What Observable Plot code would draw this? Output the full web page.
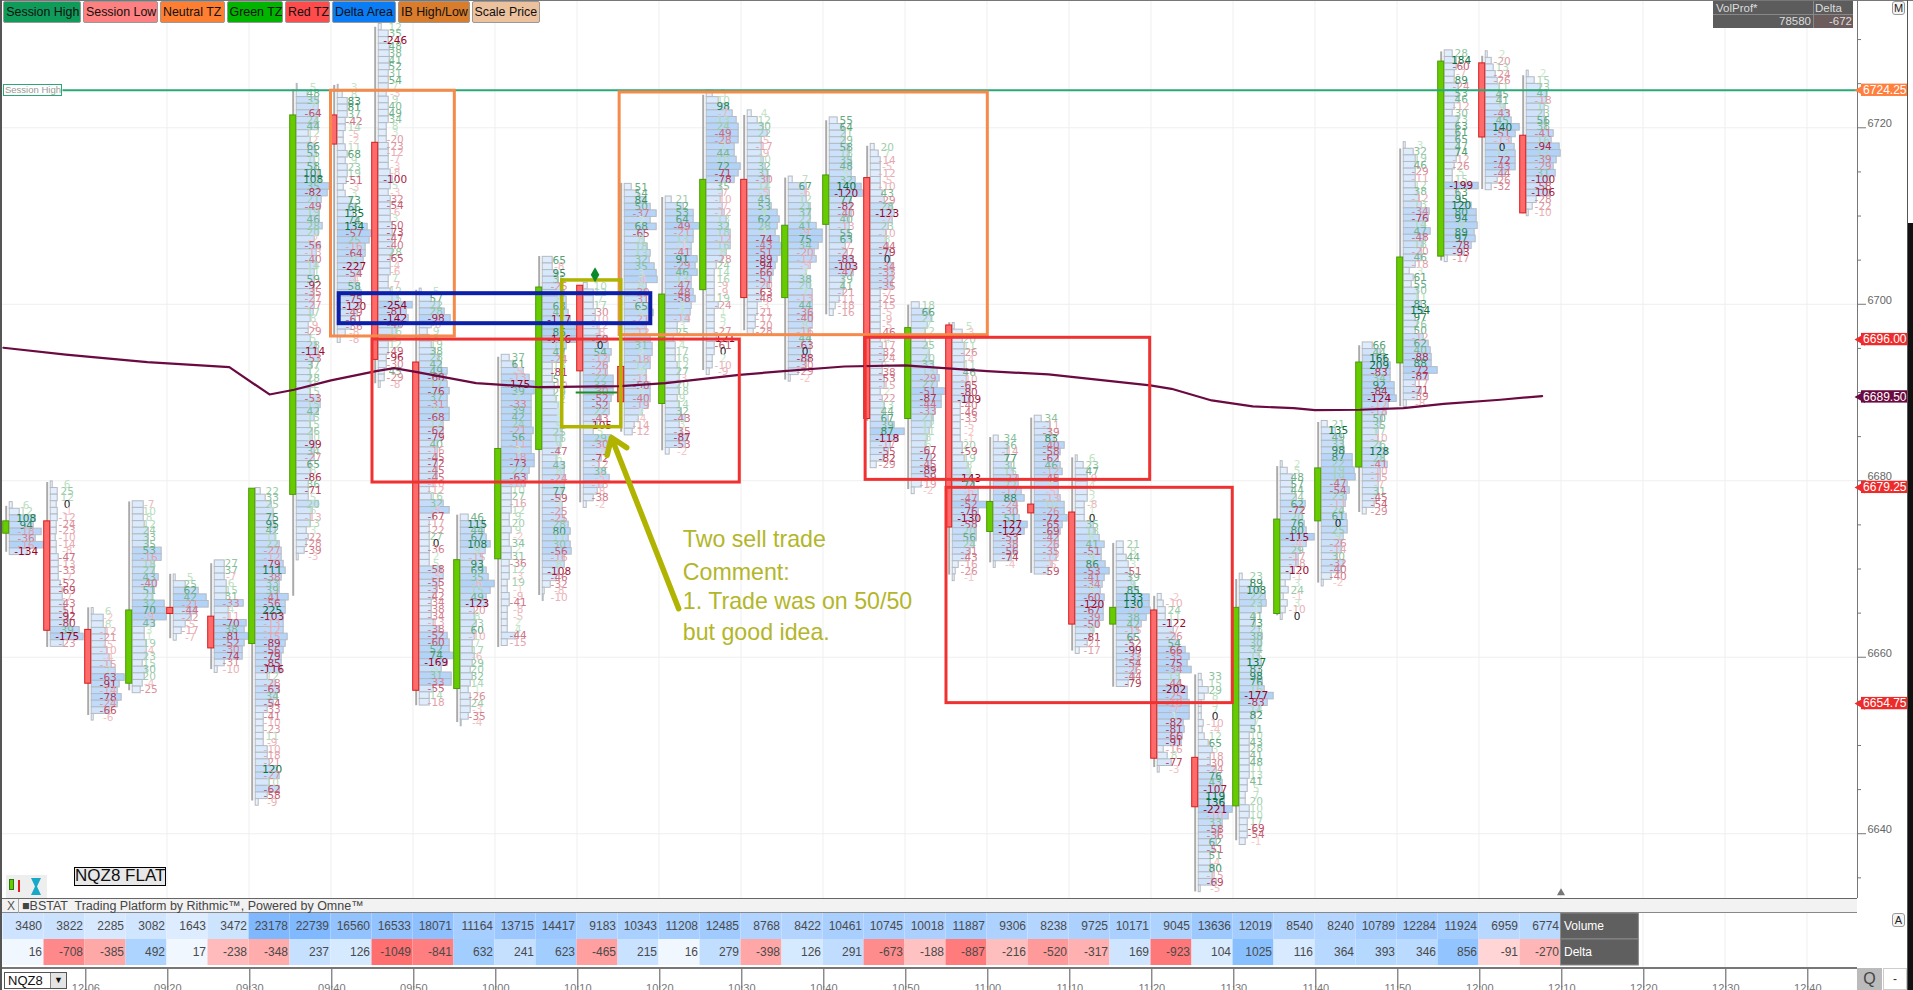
<!DOCTYPE html>
<html><head><meta charset="utf-8">
<script src="https://cdn.jsdelivr.net/npm/d3@7"></script>
<script src="https://cdn.jsdelivr.net/npm/@observablehq/plot@0.6"></script>
<style>
html,body{margin:0;padding:0;background:#fff;overflow:hidden}
#page{position:relative;width:1913px;height:990px;overflow:hidden;font-family:"Liberation Sans",sans-serif}
#page svg{position:absolute;left:0;background:transparent}
.h{position:absolute;white-space:nowrap;box-sizing:border-box}
</style></head><body><div id="page"></div>
<script>
// ---------- table ----------
const barVolumes=[3480,3822,2285,3082,1643,3472,23178,22739,16560,16533,18071,11164,13715,14417,9183,10343,11208,12485,8768,8422,10461,10745,10018,11887,9306,8238,9725,10171,9045,13636,12019,8540,8240,10789,12284,11924,6959,6774];
const barDeltas=[16,-708,-385,492,17,-238,-348,237,126,-1049,-841,632,241,623,-465,215,16,279,-398,126,291,-673,-188,-887,-216,-520,-317,169,-923,104,1025,116,364,393,346,856,-91,-270];
// ---------- candles (price) ----------
const opens=[6674,6675.4,6663.1,6657,6665.6,6664.6,6661.5,6678.4,6721.4,6718.3,6693.4,6656.4,6671.1,6683.5,6702.1,6692.9,6688.7,6701.6,6714.1,6700.7,6709,6714.3,6687,6697.6,6674.2,6677.3,6676.4,6663.7,6665.3,6648.6,6643.1,6664.9,6675.4,6681.5,6693.3,6705.4,6727.3,6719.1];
const closes=[6675.4,6663,6657,6665.3,6664.9,6661,6679.1,6721.4,6718.1,6693.7,6656.2,6671,6683.6,6701.9,6692.4,6688.9,6701.1,6714.1,6700.7,6708.9,6714.6,6687,6697.3,6674.7,6677.6,6676.3,6663.7,6665.6,6648.5,6643,6665.6,6675.6,6681.4,6693.4,6705.3,6727.5,6718.9,6710.3];
const highs=[6677.1,6679.8,6665.6,6677.6,6669.4,6670.6,6679,6724.3,6724.8,6731.4,6701.6,6676.1,6694,6705.4,6702.1,6713.7,6712.1,6723.7,6721.4,6714.3,6720.8,6717.9,6699.9,6697.9,6684.9,6687.1,6682.6,6672.9,6666.9,6658,6668.8,6681.6,6686.6,6695.3,6717.6,6728.6,6728.1,6725.9];
const lows=[6671.9,6661.1,6653.4,6656.2,6662.1,6658.6,6643.7,6666.9,6696.4,6691,6654.5,6652.6,6661.1,6667,6677.5,6685.5,6683.4,6692.5,6697,6691.4,6698.8,6686.75,6679,6669.3,6670.7,6669.5,6660.7,6656.6,6647.5,6633.4,6639.2,6664.7,6668.4,6676.4,6688.4,6704.9,6713,6710.25];
// ---------- footprint profile: first row price, delta per row, volume per row (lots) ----------
const firstRowPrice=[6677.2,6679.55,6665.2,6677.3,6669,6670.6,6678.8,6724.6,6724.5,6731.4,6701.4,6675.8,6693.9,6705,6702.05,6713.27,6711.84,6723.85,6721.6,6714.1,6720.8,6717.8,6699.86,6697.5,6684.75,6687,6682.5,6672.75,6666.8,6657.75,6669.1,6681.85,6686.4,6695.3,6718,6728.4,6728.3,6726.1];
const rowDeltas=[
[6,12,108,94,-18,-36,-16,-134],
[6,25,12,0,-1,-12,-24,-23,-10,-14,-8,-47,-13,-33,-7,-52,-69,-7,-43,-51,-92,-80,39,-175,-23],
[6,-2,8,-12,-21,-5,-10,-4,-15,7,-63,-91,-14,-78,-24,-66,-6],
[-7,10,8,12,24,33,35,53,-16,18,27,43,-40,51,21,32,70,-9,43,3,1,19,-4,23,15,30,20,-4,-25],
[5,25,62,42,-21,-44,-22,-5,-17,-7],
[27,37,-7,6,15,31,-33,4,-11,-70,38,-81,-52,-30,-74,-31,-10],
[22,33,25,7,75,95,42,11,22,-27,-12,-79,111,-38,33,39,-41,-56,225,-103,-13,-12,-15,-89,-56,-79,-85,-116,12,-28,-63,34,-54,-33,-41,-10,-23,11,-9,-10,-18,-21,120,-27,10,-62,-58,-9],
[5,48,35,7,-64,24,44,12,-2,66,55,10,58,101,108,35,-82,21,-49,19,46,28,20,-2,-56,-13,-40,14,11,59,-92,-35,-27,-27,17,8,-9,-29,5,28,-114,-53,37,12,28,9,15,-53,15,42,15,15,26,10,-99,34,-27,65,8,-86,36,-71,5,20,6,-13,13,3,-22,-28,-39,-3],
[3,8,83,81,37,-42,14,-5,-2,11,68,9,23,19,-51,-3,3,73,66,135,74,134,-57,25,-16,-64,9,-227,-54,-4,58,3,-75,-120,-49,-61,-36,-8,-8],
[12,35,-246,48,38,41,52,31,54,7,-3,9,40,49,34,8,3,-20,-23,-12,-7,-3,-8,-100,5,-3,-32,-54,-6,3,-50,-73,-47,-40,28,-65,-4,-6,7,-7,12,15,-254,-81,-142,-40,16,5,12,-49,-96,-30,45,-29,-8],
[5,57,22,28,-98,-8,9,8,19,38,28,42,49,-68,17,-76,37,-31,9,-68,12,-62,-79,40,-16,-45,-72,-45,-45,-10,-12,16,32,-5,-67,-17,-22,27,0,-36,2,5,-58,-5,-55,-35,-42,-34,-38,-34,-13,-38,-52,-60,52,74,-169,5,31,-33,-55,14,-18],
[46,115,44,67,108,9,-15,93,69,35,-6,15,49,-123,-20,8,23,60,-10,7,17,-6,29,20,32,14,1,-26,24,-3,-35,-4],
[37,61,-5,-13,-175,39,7,-33,39,42,24,-21,56,-11,3,-18,-73,22,-63,-10,10,27,-16,12,9,20,9,-2,34,2,31,-36,12,-3,19,-1,-9,-41,-8,-5,2,4,-44,-15],
[65,-8,95,35,-25,7,8,63,41,-117,8,86,-146,13,47,-24,13,-81,51,-10,29,12,1,1,3,9,25,16,9,-47,6,43,8,-24,3,77,-59,2,-25,-25,28,80,11,30,-56,-16,8,-108,-46,-32,-8,-10],
[10,12,7,17,-30,-10,-12,-8,-59,0,54,-12,-26,-21,22,33,-30,-52,-52,22,-43,-105,5,29,-30,-2,-72,-12,38,-5,-13,-8,-38,-2],
[51,54,84,50,-37,2,68,-65,8,18,13,32,35,3,-4,8,-30,-31,65,5,-21,-3,-12,4,31,2,-18,12,3,-11,-50,2,-40,-19,2,-4,-14,-12],
[21,52,53,64,-49,-21,13,-1,-41,91,-29,46,13,-47,-48,-58,3,7,-14,3,25,2,4,17,16,12,27,-3,20,18,9,14,32,-43,3,-35,-87,-53,-2],
[3,10,98,-7,13,24,-49,-28,7,44,10,72,-71,-78,35,-7,-10,-7,-12,13,32,18,-12,16,8,-28,24,14,16,-9,-9,19,-24,1,5,2,-27,-121,-61,0,2,-10,-9],
[4,12,30,22,-5,-17,-9,10,32,31,-30,14,-5,45,53,8,62,28,4,-74,-43,-51,-89,-94,-66,-51,-20,-63,-48,-3,-21,-17,-20,-28],
[7,67,-6,12,21,37,22,41,-9,75,34,-20,-12,-5,2,38,20,7,-13,44,-36,-40,8,-16,44,-63,0,-88,-30,-29,-2],
[55,64,21,29,58,18,35,48,5,32,140,-120,77,-82,-40,40,-13,55,63,-7,-27,-83,-103,-47,39,41,-21,-11,-18,-16],
[20,7,-14,-5,-12,-5,-10,43,-29,28,-123,-7,23,-10,8,-44,-79,0,-34,-33,-32,-35,-7,-25,-15,-5,-9,-5,-46,4,-17,-32,-24,5,-38,-53,-15,2,-22,13,44,67,39,87,-118,-17,-55,-82,-29],
[18,66,21,7,12,3,25,7,20,33,13,-29,27,-51,-87,-44,-33,21,12,11,8,6,-67,-72,-45,-89,-59,-19,-2],
[5,-3,20,11,-26,-4,11,46,-10,-65,-80,-109,-40,-46,-33,-5,-2,-1,20,-59,19,8,4,-143,74,-6,-47,-52,-76,-130,-58,20,56,24,-31,-43,-16,-26,-1],
[34,36,-14,77,31,15,-27,22,-17,88,-24,-30,51,-127,-122,-53,-38,-56,-74,-4],
[34,-11,-39,83,-40,-58,-62,46,-12,-45,4,-5,-13,10,-26,-72,-65,-69,-42,-26,-35,-12,-6,-59],
[6,23,47,-9,4,5,2,-8,1,0,35,18,6,41,-51,9,86,-53,-41,-34,5,-60,-120,-67,-39,-50,9,-81,-21,-17],
[21,8,44,3,-51,39,9,85,133,130,-7,38,42,-15,65,-52,-99,-33,-54,-26,-44,-79],
[-2,-10,24,11,-122,-7,-26,54,-66,-35,-75,-34,13,-44,-202,-25,-18,-7,1,-82,-81,-66,-91,-16,8,-77,-3],
[33,15,29,8,3,7,0,-10,-4,12,65,3,-18,-30,-24,76,43,-107,119,136,-221,-10,33,-58,-36,62,-51,51,-4,80,-15,-69,-5],
[23,89,108,22,23,1,41,73,23,38,30,34,15,137,83,98,76,16,-177,-83,14,82,7,51,10,43,28,41,48,11,13,41,5,7,20,10,10,17,-69,-54,-1],
[2,5,48,57,44,24,62,-72,20,76,80,-115,-4,29,-17,-18,-120,-1,3,24,-1,3,-10,0],
[21,135,49,33,98,87,22,19,19,-47,-54,23,-11,24,61,0,25,9,-26,-14,30,-32,-40,-40,-2],
[66,44,166,209,-83,34,92,-84,-124,-12,-18,50,35,17,-10,26,128,28,-41,-10,-15,-7,31,-45,-54,-29],
[3,32,19,46,-29,-11,12,38,-12,13,-34,-76,14,47,-48,18,-20,46,-18,3,61,55,30,11,83,154,97,26,50,-12,62,40,-88,88,-72,-87,-17,-71,-39,-8],
[28,184,-60,-7,89,-24,53,46,-12,30,23,63,61,65,47,74,-12,-26,5,15,-199,63,95,120,80,94,9,89,97,-78,-93,-17],
[2,-20,13,-24,-26,11,45,41,9,-43,45,140,-51,-13,0,12,-72,-43,-44,-26,-32],
[2,15,23,41,-18,15,23,56,38,-41,16,-94,13,-39,-29,31,-100,-58,-106,-28,-22,-10]
];
const rowLots=[
[3,10,26,24,32,26,34,18],
[2,7,7,6,7,7,6,6,5,6,6,8,8,8,8,10,12,12,14,15,18,20,29,33,13],
[2,12,12,14,14,14,16,18,20,24,33,28,26,30,26,18,2],
[11,11,11,12,16,16,16,29,29,22,22,26,24,22,20,32,33,34,22,12,12,14,14,14,10,14,12,10,8],
[2,12,25,33,35,22,18,12,8,3],
[10,10,10,12,12,12,29,14,14,32,30,34,30,28,28,10,3],
[5,10,16,18,18,20,20,20,24,26,26,28,30,26,24,24,33,30,30,28,28,28,32,30,28,26,26,26,12,20,24,22,18,12,8,8,8,8,8,12,12,14,22,24,14,24,12,3],
[1,11,22,22,22,21,22,12,14,18,20,18,20,22,24,33,31,25,24,23,23,26,22,18,24,20,20,20,18,18,18,18,18,18,17,14,12,12,14,20,22,22,16,14,14,14,14,22,24,22,18,14,16,16,20,18,18,14,14,14,12,12,12,22,16,14,14,10,12,10,8,2],
[1,5,10,10,10,8,8,6,6,8,10,8,10,10,9,6,8,14,18,16,20,30,34,32,28,28,26,24,22,18,22,24,24,22,20,18,14,8,3],
[3,10,10,11,11,11,11,10,10,10,8,10,10,10,10,8,8,8,10,10,10,10,12,14,12,10,12,12,12,12,14,14,14,14,14,12,12,12,10,10,12,20,34,28,30,22,18,14,10,10,8,8,6,6,2],
[2,12,20,25,31,12,8,10,12,16,20,22,28,27,28,30,28,28,30,30,24,24,22,18,18,18,18,18,18,14,10,12,24,30,14,10,10,10,10,10,10,10,22,24,20,18,14,12,12,12,14,20,28,30,30,34,28,22,32,32,14,10,10],
[8,24,24,26,30,25,22,22,26,28,34,30,26,26,14,14,16,14,14,12,12,14,12,10,12,10,8,10,10,10,8,1],
[8,14,22,28,33,33,30,30,30,30,30,32,30,30,30,33,33,28,26,24,10,10,10,10,8,8,10,8,8,10,10,8,8,8,6,6,8,8,6,6,6,6,14,6],
[10,10,14,16,18,22,24,24,26,28,33,34,34,24,22,22,10,10,10,12,12,14,16,18,20,20,20,20,18,16,14,22,22,22,22,20,18,20,20,22,26,28,26,28,29,22,22,16,14,8,2,1],
[4,10,10,10,12,12,14,16,24,25,28,26,24,24,30,30,30,28,26,26,18,14,10,28,26,22,18,16,22,26,20,14,10,3],
[7,14,20,26,32,26,32,20,20,23,26,25,30,32,33,22,22,22,24,29,24,22,22,26,28,28,26,26,22,22,26,26,26,24,18,14,10,8],
[6,18,28,28,34,28,28,26,26,32,30,32,26,26,28,30,26,25,24,12,12,8,10,10,10,12,14,14,14,14,12,14,16,20,14,16,22,20,4],
[6,12,22,26,30,32,32,32,28,28,30,34,32,28,14,16,14,16,18,20,22,24,24,24,20,16,10,8,8,8,8,8,12,8,8,8,8,10,8,8,6,6,3],
[4,10,16,20,14,14,14,16,18,20,22,20,22,22,24,30,32,30,28,32,34,33,30,28,26,24,22,14,14,10,10,8,8,6],
[4,18,18,18,22,22,22,28,34,34,30,26,28,22,18,22,22,24,24,24,24,24,24,22,22,22,22,22,18,10,2],
[8,14,16,16,20,20,22,22,22,26,32,34,22,22,22,20,20,20,22,16,18,24,26,24,14,14,14,10,6,4],
[4,8,10,10,10,10,10,12,14,22,24,22,18,16,16,18,20,20,22,22,22,22,10,10,10,10,10,10,10,10,12,14,14,12,12,14,14,10,12,14,13,18,24,34,28,20,18,13,6],
[8,18,20,16,14,14,16,18,18,22,26,28,26,34,30,30,24,22,20,18,16,14,18,20,20,22,20,10,3],
[2,10,10,12,12,12,12,14,14,18,18,18,8,8,8,8,8,8,10,10,12,16,18,20,22,26,26,34,26,26,24,24,24,22,18,14,6,3,2],
[5,14,14,14,18,20,25,25,28,31,24,24,26,34,31,24,24,24,18,2],
[7,16,16,20,30,26,24,26,28,24,24,24,26,30,30,33,28,26,24,24,22,22,18,14],
[2,8,12,12,12,12,12,9,9,9,18,20,24,29,26,26,30,34,29,27,25,29,28,28,28,23,18,15,12,4],
[7,7,10,12,14,14,18,22,33,33,34,30,25,22,18,16,20,22,22,20,18,12],
[4,6,8,8,14,16,18,22,28,32,30,34,22,22,30,30,32,32,32,26,27,25,24,6,10,14,2],
[3,4,10,6,3,3,3,5,4,6,10,14,12,12,18,22,24,24,26,26,34,30,24,22,20,18,16,12,12,16,14,18,2],
[3,12,20,26,27,22,16,16,20,23,22,20,20,22,20,22,23,25,34,28,20,16,16,15,10,10,10,10,10,10,10,8,8,6,6,10,10,8,8,8,6],
[2,7,12,12,12,16,25,22,22,24,26,34,26,20,18,18,14,10,5,8,3,7,5,2],
[6,14,20,22,23,31,31,33,34,26,28,25,24,22,25,26,26,22,20,20,16,22,20,10,2],
[10,18,24,28,28,28,32,32,34,26,24,20,18,16,16,18,24,22,25,18,18,16,16,14,12,4],
[2,10,12,12,12,12,12,14,16,18,26,25,22,27,22,20,18,18,12,6,10,8,14,15,18,20,12,14,12,20,25,27,28,28,34,25,12,18,14,3],
[8,12,12,10,10,14,14,14,10,8,14,14,14,15,15,14,12,10,8,8,34,14,16,27,32,32,33,30,31,27,20,3],
[2,6,8,10,12,14,16,16,20,24,26,34,30,26,29,30,30,30,20,12,6],
[2,8,14,20,20,18,18,20,20,27,25,33,34,30,27,29,24,20,24,10,6,2]
];
// ---------- indicator and reference lines ----------
const vwapMinute=[540.05,547.66,557.6,567.6,572.5,575.5,580,585.5,587.7,590.5,597.7,605.4,615.3,620.8,629.8,635.2,642.6,650,660,667.5,679.9,682.5,687.4,692.4,697.4,700,705.5,710.8,715.7,722.6,727.7];
const vwapPrice=[6695.07,6694.3,6693.44,6692.87,6689.78,6690.31,6691.37,6692.42,6692.76,6692.31,6691.06,6690.6,6690.72,6691.06,6692,6692.42,6692.95,6693.07,6692.42,6692.05,6690.8,6690.42,6689.1,6688.42,6688.23,6688,6688.05,6688.23,6688.72,6689.18,6689.6];
const sessionHigh=6724.25;
const gridMinutes=d3.range(560,761,10);
const gridPrices=[6720,6700,6680,6660,6640];
const minorPrices=[6730,6725,6715,6710,6705,6695,6690,6685,6675,6670,6665,6655,6650,6645,6635];
const tagPrices=[6724.25,6696,6689.5,6679.25,6654.75];
const tagKinds=["neutral","red","vwap","red","red"];
const boxKinds=["neutral","neutral","red","red","red","olive","blue"];
const boxLeft=[580.0,615.2,585.06,645.2,655.06,608.2,581.0];
const boxRight=[595.1,660.1,629.85,679.9,689.97,615.4,619.0];
const boxTop=[6724.2,6724.0,6696.0,6696.2,6679.2,6702.7,6701.2];
const boxBottom=[6696.35,6696.5,6679.8,6680.1,6654.8,6686.07,6697.8];
const tickMinutes=d3.range(550,761,10);
const chipNames=["Session High","Session Low","Neutral TZ","Green TZ","Red TZ","Delta Area","IB High/Low","Scale Price"];
const noteLines=["Two sell trade","Comment:","1. Trade was on 50/50","but good idea."];
const notePrices=[6673.3,6669.6,6666.3,6662.8];

// ---------- palette / scale geometry ----------
const pxPerMinute=8.2, barMinutes=5, firstBar=540, rowStep=.75;
const xDomain=[firstBar-2.5/pxPerMinute, firstBar+1910.5/pxPerMinute];
const yDomain=[6632.66,6734.425];
const bodyOff=3.2/pxPerMinute, bodyHalf=3/pxPerMinute, profOff=6.7/pxPerMinute, labelOff=23.2/pxPerMinute;
const axisMinute=firstBar+(1857-2.5)/pxPerMinute;
const tone={neutral:"#f58a4b",red:"#ef3131",olive:"#b0b400",blue:"#0b1fa8",vwap:"#6b0a40"};
const tagFill={neutral:"#ff7f3f",red:"#ee2b2b",vwap:"#6b0a40"};
const barStart=k=>firstBar+barMinutes*k;

const rows=rowDeltas.flatMap((ds,k)=>ds.map((d,n)=>({k,n,d,lots:rowLots[k][n]??6,price:firstRowPrice[k]-rowStep*n})));
const bars=opens.map((o,k)=>({k,o,c:closes[k],h:highs[k],l:lows[k]}));
const tags=tagPrices.map((p,i)=>({p,kind:tagKinds[i]}));
const profFill=d3.interpolateRgb("#f1f6fe","#b2d3f8");
const gCol=d3.interpolateRgb("#d4eed4","#07703a"), rCol=d3.interpolateRgb("#f8d0d0","#980024");
const labelCol=d=>d===0?"#222":(d>0?gCol:rCol)(Math.pow(Math.min(1,Math.abs(d)/125),.75));
const fontD='"DejaVu Sans",sans-serif', fontL='"Liberation Sans",sans-serif';

const main=Plot.plot({
  width:1913,height:898,margin:0,
  x:{domain:xDomain,range:[0,1913],axis:null},
  y:{domain:yDomain,axis:null},
  marks:[
    Plot.ruleX(gridMinutes,{stroke:"#efefef",strokeWidth:1}),
    Plot.ruleY(gridPrices,{x1:xDomain[0],x2:axisMinute,stroke:"#efefef",strokeWidth:1}),
    Plot.rect(rows,{
      x1:r=>barStart(r.k)+profOff,x2:r=>barStart(r.k)+profOff+r.lots/pxPerMinute,
      y1:r=>r.price-rowStep/2,y2:r=>r.price+rowStep/2,
      fill:r=>profFill(Math.min(1,r.lots/34)),stroke:"#b3bac2",strokeWidth:1}),
    Plot.ruleX(bars,{x:b=>barStart(b.k)+bodyOff,y1:"l",y2:"h",stroke:"#aaaaaa",strokeWidth:2}),
    Plot.rect(bars,{
      x1:b=>barStart(b.k)+bodyOff-bodyHalf,x2:b=>barStart(b.k)+bodyOff+bodyHalf,
      y1:"o",y2:"c",
      fill:b=>b.c>b.o?"#66cc00":"#ff6b6b",stroke:b=>b.c>b.o?"#4a9a05":"#d81c1c",strokeWidth:1}),
    Plot.text(rows,{x:r=>barStart(r.k)+labelOff,y:"price",text:r=>String(r.d),fill:r=>labelCol(r.d),
      fontFamily:fontD,fontSize:10.5}),
    Plot.line(vwapMinute.map((m,i)=>({m,p:vwapPrice[i]})),{x:"m",y:"p",stroke:tone.vwap,strokeWidth:2.2}),
    Plot.ruleY([sessionHigh],{x1:firstBar+60/pxPerMinute,x2:axisMinute,stroke:"#2aa876",strokeWidth:2}),
    Plot.rect(boxKinds.map((kind,i)=>({kind,l:boxLeft[i],r:boxRight[i],t:boxTop[i],b:boxBottom[i]})),{
      x1:"l",x2:"r",y1:"b",y2:"t",fill:"none",stroke:d=>tone[d.kind],
      strokeWidth:d=>d.kind==="blue"?4:d.kind==="olive"?3.5:3}),
    Plot.ruleY([6690],{x1:609.9,x2:615,stroke:"#1e8a20",strokeWidth:2}),
    Plot.dot([{m:612.2,p:6703.35}],{x:"m",y:"p",symbol:"diamond",r:4.5,fill:"#0a8a2a"}),
    Plot.arrow([{x1:622.4,y1:6665.5,x2:614.2,y2:6684.9}],{x1:"x1",y1:"y1",x2:"x2",y2:"y2",stroke:tone.olive,strokeWidth:5.5,headLength:5,headAngle:70,bend:0}),
    Plot.text(noteLines,{x:()=>622.9,y:(d,i)=>notePrices[i],text:d=>d,textAnchor:"start",fill:"#b3b62a",fontFamily:fontL,fontSize:23.2}),
    // price axis
    Plot.ruleX([axisMinute],{stroke:"#777",strokeWidth:1}),
    Plot.ruleY(gridPrices,{x1:axisMinute,x2:axisMinute+9/pxPerMinute,stroke:"#777"}),
    Plot.ruleY(minorPrices,{x1:axisMinute,x2:axisMinute+4/pxPerMinute,stroke:"#777"}),
    Plot.text(gridPrices,{x:()=>axisMinute+10/pxPerMinute,y:d=>d,dy:-4,text:d=>String(d),textAnchor:"start",fill:"#666",fontFamily:fontL,fontSize:11}),
    Plot.dot(tags,{x:()=>axisMinute+4/pxPerMinute,y:"p",symbol:"triangle",r:4.5,rotate:-90,fill:d=>tagFill[d.kind]}),
    Plot.rect(tags,{
      x1:()=>axisMinute+4/pxPerMinute,x2:()=>axisMinute+50/pxPerMinute,
      y1:d=>d.p-.7,y2:d=>d.p+.7,fill:d=>tagFill[d.kind]}),
    Plot.text(tags,{
      x:()=>axisMinute+49/pxPerMinute,y:"p",text:d=>d.p.toFixed(2),textAnchor:"end",fill:"#fff",fontFamily:fontL,fontSize:12}),
    Plot.dot(gridMinutes.filter(m=>m===730),{x:d=>d,y:()=>6633.3,symbol:"triangle",r:3,fill:"#777"})
  ]
});
main.style.top="0";

const volFill=d3.scalePow().exponent(.5).domain([0,23178]).range(["#ffffff","#7fb8ff"]);
const posFill=d3.scalePow().exponent(.5).domain([0,1025]).range(["#ffffff","#88c0ff"]);
const negFill=d3.scalePow().exponent(.5).domain([0,1049]).range(["#ffffff","#ff6f70"]);
const tableRows=["Volume","Delta"];
const cells=[...barVolumes.map((v,k)=>({k,row:"Volume",v,fill:volFill(v)})),
             ...barDeltas.map((v,k)=>({k,row:"Delta",v,fill:v<0?negFill(-v):posFill(v)}))];
const table=Plot.plot({
  width:1913,height:70,margin:0,
  x:{domain:xDomain,range:[0,1913],axis:null},
  y:{domain:tableRows,range:[14.7,68],padding:0,axis:null},
  marks:[
    Plot.ruleX(gridMinutes.filter(m=>m>730),{stroke:"#efefef"}),
    Plot.barX(cells,{x1:c=>barStart(c.k),x2:c=>barStart(c.k+1),y:"row",fill:"fill",inset:0}),
    Plot.text(cells,{x:c=>barStart(c.k+1),y:"row",dx:-2,text:c=>String(c.v),textAnchor:"end",fill:"#4a4a4a",fontFamily:fontL,fontSize:12}),
    Plot.barX(tableRows,{x1:()=>barStart(38),x2:()=>barStart(38)+9.5,y:d=>d,fill:"#5f5f5f",stroke:"#8a8a8a"}),
    Plot.text(tableRows,{x:()=>barStart(38),y:d=>d,dx:3,text:d=>d,textAnchor:"start",fill:"#fff",fontFamily:fontL,fontSize:12})
  ]
});
table.style.top="898px";

const clock=m=>m===550?"12-06":`${String(Math.floor(m/60)).padStart(2,"0")}:${String(m%60).padStart(2,"0")}`;
const axis=Plot.plot({
  width:1913,height:22,margin:0,
  x:{domain:xDomain,range:[0,1913],axis:null},
  marks:[
    Plot.ruleX(tickMinutes,{x:d=>d+.1,y1:()=>0,y2:()=>6,stroke:"#555"}),
    Plot.text(tickMinutes,{x:d=>d+.1,frameAnchor:"bottom",dy:1,text:clock,fill:"#777",fontFamily:fontL,fontSize:11})
  ]
});
axis.style.top="968px";

const page=document.getElementById("page");
page.append(main,table,axis);

function box(css,text){const e=document.createElement("div");e.className="h";e.style.cssText=css;if(text!=null)e.textContent=text;page.append(e);return e;}
// legend chips
const chipFill=["#0f9b5a","#ff8080","#ff7f32","#00b400","#ff4b4b","#0a7cf5","#d97c2b","#ecc29e"];
const chipX=[3.3,83,160,226.5,285,332,398,471.5], chipW=[77.5,75,64.5,56.5,45,64,72,68];
chipNames.forEach((n,i)=>box(`left:${chipX[i]}px;top:1px;width:${chipW[i]}px;height:22px;background:${chipFill[i]};border:1px solid #999;border-radius:2px;padding-left:2px;font-size:12.4px;line-height:20px;color:#111;overflow:hidden`,n));
// frame
box("left:0;top:0;width:1913px;height:1px;background:#777");
box("left:0;top:0;width:2px;height:990px;background:#555");
box("left:1907px;top:0;width:1px;height:990px;background:#555");
box("left:1908px;top:223px;width:5px;height:767px;background:#111");
// session high tag
box("left:3px;top:84px;width:59px;height:12px;background:#fff;border:1px solid #2aa876;font-size:9.5px;line-height:10px;color:#999;padding-left:1px;overflow:hidden","Session High");
// volprof box
box("left:1713px;top:1px;width:140px;height:27px;background:#5c5c5c");
box("left:1716px;top:2px;font-size:11.5px;color:#ddd","VolProf*");
box("left:1815px;top:2px;font-size:11.5px;color:#ddd","Delta");
box("left:1713px;top:14px;width:140px;height:1px;background:#888");
box("left:1813px;top:1px;width:1px;height:27px;background:#888");
box("left:1814px;top:15px;width:39px;height:13px;background:#6c5c5c");
box("left:1713px;width:98px;top:15px;text-align:right;font-size:11.5px;color:#ddd","78580");
box("left:1814px;width:38px;top:15px;text-align:right;font-size:11.5px;color:#ddd","-672");
const btn="background:#f4f4f4;border:1px solid #999;border-radius:3px;font-size:11px;text-align:center;color:#222;";
box(btn+"left:1892px;top:1px;width:13px;height:14px;line-height:12px","M");
box(btn+"left:1892px;top:913px;width:13px;height:14px;line-height:12px","A");
// NQZ8 FLAT and icons
box("left:74px;top:867px;width:92px;height:19px;background:#e8e8e8;border:1.5px solid #000;font-size:17px;line-height:16px;text-align:center;color:#111","NQZ8 FLAT");
box("left:6px;top:875px;width:41px;height:23px;background:#eeeeee");
box("left:9px;top:879px;width:5px;height:11px;background:#66cc00;border:1px solid #2a7a10");
box("left:18px;top:880px;width:2px;height:12px;background:#e02020");
box("left:31px;top:878px;width:10px;height:17px;background:#18a9c9;clip-path:polygon(0 0,100% 0,60% 50%,100% 100%,0 100%,40% 50%)");
// status strip
box("left:2px;top:898px;width:1855px;height:15px;background:#f2f2f2;border-top:1px solid #666;border-bottom:1px solid #888");
box("left:4px;top:899px;font-size:12px;color:#555;border-right:1px solid #aaa;padding:0 3px;line-height:14px","X");
box("left:22px;top:899px;font-size:12.5px;line-height:14px;color:#444;white-space:pre","■BSTAT  Trading Platform by Rithmic™, Powered by Omne™");
// bottom axis line and chrome
box("left:2px;top:967px;width:1855px;height:2px;background:#777");
box("left:4px;top:972px;width:63px;height:17px;background:#fff;border:1px solid #555;font-size:13px;line-height:15px;color:#111;padding-left:3px","NQZ8");
box("left:50px;top:973px;width:16px;height:15px;background:#e4e4e4;border-left:1px solid #888;font-size:9px;line-height:15px;text-align:center;color:#111","▼");
box("left:1857px;top:968px;width:25px;height:22px;background:#bbbbbb;font-size:16px;line-height:22px;text-align:center;color:#444","Q");
box("left:1883px;top:968px;width:24px;height:22px;background:#fff;border:1px solid #ccc;font-size:12px;line-height:20px;text-align:center;color:#333","-");
</script></body></html>
